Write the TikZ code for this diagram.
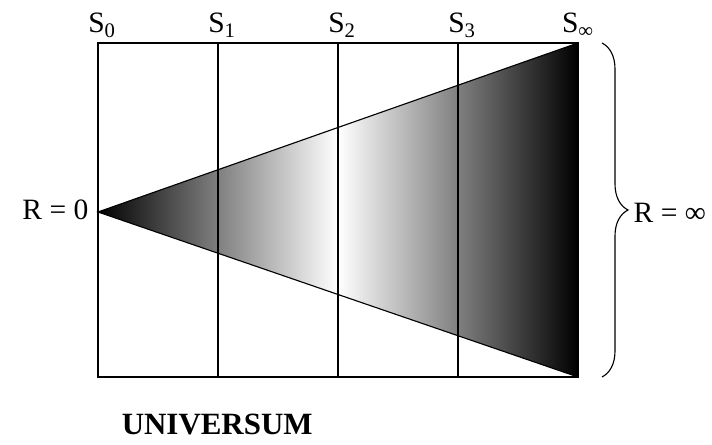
\documentclass[tikz,border=0pt]{standalone}
\usepackage{fontspec}
\setmainfont{Liberation Serif}
\usetikzlibrary{decorations.pathreplacing}

\begin{document}
\begin{tikzpicture}[x=1cm,y=1cm,
    lab/.style={font=\fontsize{21}{24}\selectfont, inner sep=1pt},
    stage/.style={line width=1.1pt}]
    \useasboundingbox (0,0) rectangle (17.8,11.125);

    % Corner and tip points
    \coordinate (bl) at (2.45,1.7);
    \coordinate (tl) at (2.45,10.05);
    \coordinate (br) at (14.45,1.7);
    \coordinate (tr) at (14.45,10.05);
    \coordinate (tip) at (2.45,5.825);

    % Shaded triangle
    \shade[left color=black, right color=black, middle color=white]
        (tip) -- (tr) -- (br) -- cycle;
    \draw[line width=0.8pt] (tip) -- (tr) -- (br) -- cycle;

    % Draw the rectangle for the universe
    \draw[stage] (bl) rectangle (tr);

    % Stage lines
    \foreach \i/\x in {1/5.45, 2/8.45, 3/11.45} {
        \coordinate (t\i) at (\x,10.05);
        \coordinate (b\i) at (\x,1.7);
        \draw[stage] (t\i) -- (b\i);
    }

    % Stage labels
    \node[lab, anchor=base] (s0) at (2.55,10.3) {S\textsubscript{0}};
    \node[lab, anchor=base] (s1) at (5.55,10.3) {S\textsubscript{1}};
    \node[lab, anchor=base] (s2) at (8.55,10.3) {S\textsubscript{2}};
    \node[lab, anchor=base] (s3) at (11.55,10.3) {S\textsubscript{3}};
    \node[lab, anchor=base] (sinf) at (14.45,10.3) {S\textsubscript{∞}};

    % Radius labels
    \node[lab, anchor=base east] (r0) at (2.25,5.625) {R = 0};
    \coordinate (bt) at (15.05,10.05);
    \coordinate (bb) at (15.05,1.7);
    \draw[line width=0.8pt, decorate, decoration={brace, amplitude=0.65cm}] (bt) -- (bb);
    \node[lab, anchor=base west] (rinf) at (15.8,5.55) {R = ∞};

    % Title
    \node[lab, font=\fontsize{22}{25}\selectfont\bfseries, anchor=base] (title) at (5.43,0.25) {UNIVERSUM};
\end{tikzpicture}
\end{document}
